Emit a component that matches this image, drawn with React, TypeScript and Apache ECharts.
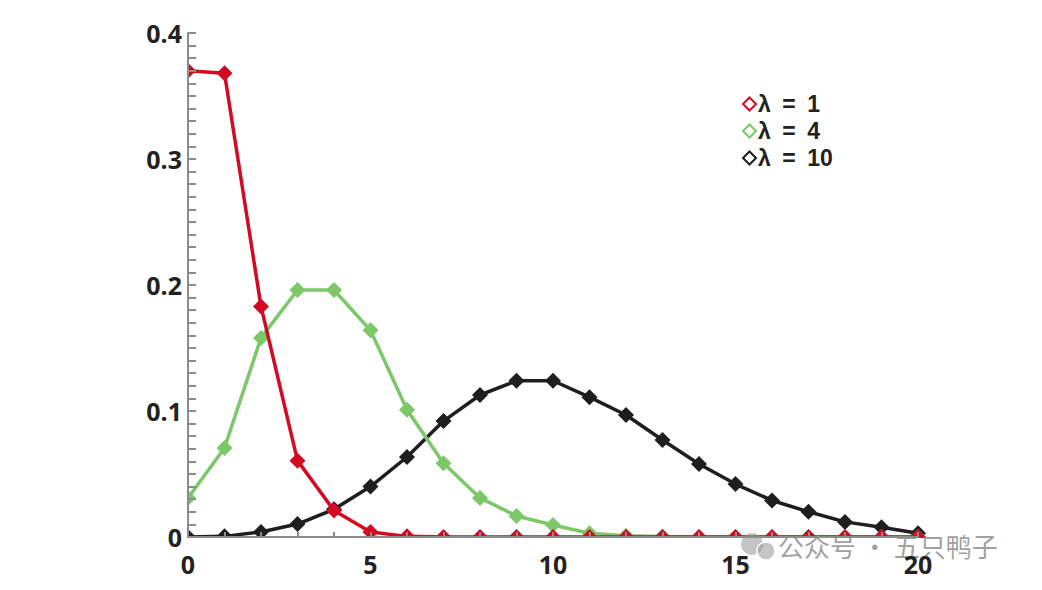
import React, { useEffect, useRef } from "react";
import * as echarts from "echarts";

const xValues = [0, 1, 2, 3, 4, 5, 6, 7, 8, 9, 10, 11, 12, 13, 14, 15, 16, 17, 18, 19, 20];
const lambda1 = [0.37, 0.368, 0.183, 0.0606, 0.021, 0.004, 0.0005, 0, 0, 0, 0, 0, 0, 0, 0, 0, 0, 0, 0, 0, 0];
const lambda4 = [0.031, 0.0706, 0.158, 0.196, 0.196, 0.164, 0.101, 0.0585, 0.031, 0.0167, 0.0095, 0.003, 0.001, 0.0003, 0, 0, 0, 0, 0, 0, 0];
const lambda10 = [0, 0.0005, 0.004, 0.0103, 0.022, 0.04, 0.0635, 0.092, 0.1127, 0.124, 0.124, 0.111, 0.0968, 0.077, 0.058, 0.042, 0.029, 0.02, 0.012, 0.0077, 0.003];
const seriesNames = ["λ = 1", "λ = 4", "λ = 10"];
const xTickLabels = ["0", "5", "10", "15", "20"];
const yTickLabels = ["0", "0.1", "0.2", "0.3", "0.4"];

const RED = "#d20a22";
const GREEN = "#7cc767";
const BLACK = "#1e1e1e";
const AXIS = "#8c8c8c";
const FONT = "'Open Sans', 'DejaVu Sans', sans-serif";
const LEGEND_FONT = "'Liberation Sans', Arial, sans-serif";

export default function App() {
  const ref = useRef<HTMLDivElement>(null);
  useEffect(() => {
    if (!ref.current) return;
    const chart = echarts.init(ref.current, undefined, { renderer: "svg" });
    const mk = (name: string, vals: number[], color: string, z: number) => ({
      name,
      type: "line",
      data: xValues.map((x, i) => [x, vals[i]]),
      symbol: "diamond",
      symbolSize: 16,
      z,
      lineStyle: { color, width: 3.5 },
      itemStyle: { color },
      clip: false,
    });
    chart.setOption({
      animation: false,
      grid: { left: 188, right: 124, top: 33, bottom: 53 },
      legend: {
        orient: "vertical",
        left: 737,
        top: 86,
        itemGap: 1,
        itemWidth: 13,
        itemHeight: 13,
        icon: "emptyDiamond",
        itemStyle: { borderWidth: 3.5 },
        formatter: (name: string) => name.replace(/ /g, "\u2002"),
        textStyle: { fontFamily: LEGEND_FONT, fontWeight: "bold", fontSize: 23, lineHeight: 26, color: "#222", padding: [0, 0, 0, -3] },
        data: seriesNames,
      },
      xAxis: {
        type: "value",
        min: 0,
        max: 20,
        interval: 5,
        z: 200,
        axisLine: { show: true, lineStyle: { color: AXIS, width: 2 } },
        axisTick: { show: true, inside: true, length: 5, lineStyle: { color: AXIS, width: 2 } },
        minorTick: { show: true, splitNumber: 5, length: 5, lineStyle: { color: AXIS, width: 2 } },
        splitLine: { show: false },
        minorSplitLine: { show: false },
        axisLabel: {
          margin: 14,
          fontFamily: FONT,
          fontWeight: "bold",
          fontSize: 25,
          color: "#222",
          formatter: (v: number) => xTickLabels[Math.round(v / 5)] ?? String(v),
        },
      },
      yAxis: {
        type: "value",
        min: 0,
        max: 0.4,
        interval: 0.1,
        z: 200,
        axisLine: { show: true, lineStyle: { color: AXIS, width: 2 } },
        axisTick: { show: true, inside: true, length: 8, lineStyle: { color: AXIS, width: 2 } },
        minorTick: { show: true, splitNumber: 10, length: 8, lineStyle: { color: AXIS, width: 2 } },
        splitLine: { show: false },
        minorSplitLine: { show: false },
        axisLabel: {
          margin: 6,
          fontFamily: FONT,
          fontWeight: "bold",
          fontSize: 25,
          color: "#222",
          formatter: (v: number) => yTickLabels[Math.round(v * 10)] ?? String(v),
        },
      },
      graphic: [
        { type: "rect", z: 100, shape: { x: 150, y: 538, width: 800, height: 9 }, style: { fill: "#fff" } },
        { type: "rect", z: 100, shape: { x: 176, y: 20, width: 11, height: 527 }, style: { fill: "#fff" } },
        { type: "circle", z: 150, shape: { cx: 752, cy: 544, r: 11 }, style: { fill: "rgba(150,150,150,0.55)" } },
        { type: "circle", z: 151, shape: { cx: 766, cy: 551, r: 9 }, style: { fill: "rgba(150,150,150,0.55)", stroke: "#fff", lineWidth: 1.5 } },
        {
          type: "text",
          z: 150,
          left: 778,
          top: 532,
          style: {
            text: "公众号 · 五只鸭子",
            fontFamily: "'Noto Sans CJK SC', sans-serif",
            fontSize: 26,
            fill: "rgba(130,130,130,0.75)",
          },
        },
      ],
      series: [
        mk(seriesNames[2], lambda10, BLACK, 2),
        mk(seriesNames[1], lambda4, GREEN, 3),
        mk(seriesNames[0], lambda1, RED, 4),
      ],
    });
    return () => chart.dispose();
  }, []);
  return <div ref={ref} style={{ width: 1042, height: 590, margin: -8 }} />;
}
